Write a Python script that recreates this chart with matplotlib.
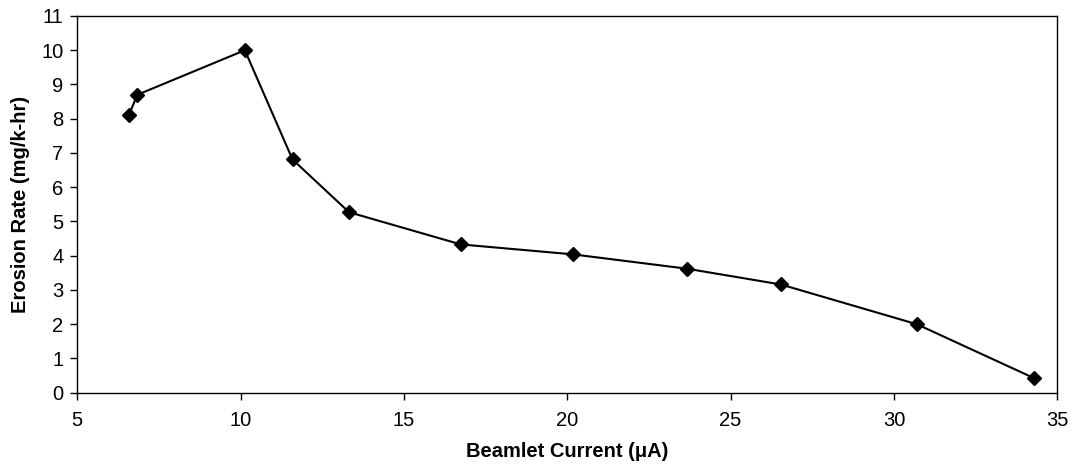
import matplotlib
matplotlib.use("Agg")
import matplotlib.pyplot as plt

beamlet_current = [6.58, 6.84, 10.13, 11.59, 13.32, 16.74, 20.17, 23.67, 26.54, 30.70, 34.30]
erosion_rate = [8.11, 8.70, 10.0, 6.81, 5.27, 4.33, 4.04, 3.62, 3.16, 2.00, 0.42]

plt.rcParams["font.family"] = ["Liberation Sans", "DejaVu Sans"]

fig = plt.figure(figsize=(10.76, 4.76), dpi=100)
ax = fig.add_axes([0.0718, 0.175, 0.9108, 0.7914])

ax.plot(beamlet_current, erosion_rate, color="black", linewidth=1.5,
        marker="D", markersize=7.5, markerfacecolor="black", markeredgecolor="black")

ax.set_xlim(5, 35)
ax.set_ylim(0, 11)
ax.set_xticks(range(5, 36, 5))
ax.set_yticks(range(0, 12))
ax.tick_params(direction="out", length=5, width=1.0, labelsize=14.5, color="black", pad=5)
ax.tick_params(axis="x", pad=8)
for s in ax.spines.values():
    s.set_linewidth(1.0)
    s.set_color("black")

ax.set_xlabel("Beamlet Current (μA)", fontsize=14.5, fontweight="bold", labelpad=9)
ax.set_ylabel("Erosion Rate (mg/k-hr)", fontsize=14.5, fontweight="bold", labelpad=8)

fig.savefig("out.png", dpi=100)
